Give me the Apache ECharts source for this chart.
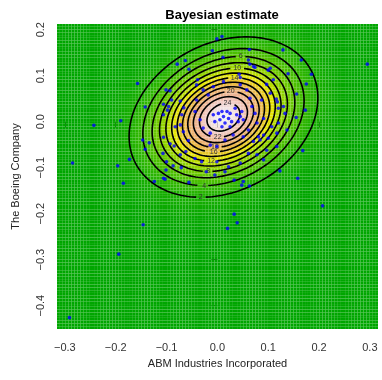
<!DOCTYPE html>
<html><head><meta charset="utf-8">
<script src="https://cdn.jsdelivr.net/npm/echarts@6/dist/echarts.min.js"></script>
<style>html,body{margin:0;padding:0;background:#fff}#c{width:382px;height:380px}</style>
</head><body><div id="c"></div>
<script>
// ---------- data ----------
const chartTitle = 'Bayesian estimate';
const xName = 'ABM Industries Incorporated';
const yName = 'The Boeing Company';
const xTicks = [-0.3, -0.2, -0.1, 0, 0.1, 0.2, 0.3];
const yTicks = [-0.4, -0.3, -0.2, -0.1, 0, 0.1, 0.2];
const xRange = [-0.3155, 0.316];
const yRange = [-0.4507, 0.2123];
// estimated bivariate normal (posterior) parameters
const meanEst = [0.012, 0.010];
const sdEst = [0.082, 0.077];
const corrEst = 0.24;
const contourLevels = [2, 4, 6, 8, 10, 12, 14, 16, 18, 20, 22, 24];
const labelOnTop = [6, 10, 14, 20, 24];
// observed returns
const abmReturns = [-0.001,-0.010,-0.063,-0.079,-0.056,-0.157,-0.101,-0.093,-0.073,-0.106,-0.096,-0.098,-0.066,-0.142,-0.106,-0.190,-0.070,-0.039,-0.090,
0.009,0.063,0.129,0.165,0.011,0.061,0.064,0.071,0.074,0.104,0.100,0.139,0.185,0.043,0.045,0.097,0.110,0.175,0.156,0.104,0.087,0.116,0.118,0.091,0.120,0.133,0.130,0.155,0.173,
0.091,0.100,0.117,0.137,0.120,0.107,0.084,0.097,0.117,0.168,0.091,0.022,0.015,0.045,0.123,0.033,0.051,0.048,0.063,0.158,0.033,0.061,0.078,
-0.147,-0.134,-0.142,-0.106,-0.093,-0.085,-0.107,-0.083,-0.073,-0.067,-0.057,-0.062,-0.044,-0.031,-0.073,-0.100,-0.087,-0.071,-0.101,-0.173,-0.124,-0.106,-0.103,-0.056,-0.022,-0.005,-0.185,-0.001,
0.002,0.009,0.019,0.025,0.012,0.022,0.005,0.028,0.038,0.045,-0.005,0.015,0.041,0.051,0.025,0.009,0.035,-0.008,0.048,
-0.041,-0.028,-0.018,-0.008,0.012,0.045,0.058,0.064,0.068,0.074,0.078,0.061,0.051,0.031,0.015,-0.014,-0.028,-0.034,-0.044,-0.041,-0.014,-0.001,0.071,0.081,
-0.285,-0.243,-0.196,-0.146,-0.194,-0.291,0.207,0.020,0.039,0.295];
const boeingReturns = [0.180,0.154,0.133,0.125,0.114,0.083,0.069,0.067,0.045,0.038,0.033,0.025,0.030,0.032,0.015,0.002,0.015,0.091,0.047,
0.185,0.157,0.156,0.134,0.140,0.134,0.125,0.120,0.118,0.116,0.112,0.104,0.103,0.103,0.096,0.081,0.091,0.082,0.060,0.062,0.047,0.049,0.043,0.007,0.029,0.018,0.033,0.009,0.025,
-0.029,-0.036,-0.025,-0.018,-0.003,-0.011,-0.040,-0.062,-0.054,-0.063,-0.083,-0.098,-0.109,-0.090,-0.107,-0.127,-0.130,-0.138,-0.140,-0.123,-0.201,-0.069,-0.072,
-0.040,-0.046,-0.060,-0.034,-0.048,-0.053,-0.069,-0.011,-0.007,-0.022,-0.041,-0.065,-0.080,-0.087,-0.072,-0.087,-0.096,-0.100,-0.105,-0.082,-0.130,-0.123,-0.125,-0.132,-0.109,-0.116,-0.134,-0.087,
0.018,0.022,0.022,0.018,0.011,0.007,0.004,0.000,0.015,0.011,0.000,-0.003,0.000,0.004,-0.011,-0.011,0.029,0.015,0.022,
0.080,0.069,0.058,0.076,0.087,0.080,0.069,0.051,0.033,0.018,-0.003,-0.018,-0.033,-0.029,-0.040,-0.025,-0.014,0.004,0.022,0.047,-0.051,-0.054,-0.043,-0.033,
-0.090,-0.008,-0.096,-0.224,-0.288,-0.426,-0.183,-0.232,-0.220,0.125];

// ---------- model ----------
const mx = meanEst[0], my = meanEst[1], sx = sdEst[0], sy = sdEst[1], r = corrEst;
const peak = 1 / (2 * Math.PI * sx * sy * Math.sqrt(1 - r * r));
function dens(x, y) {
  const dx = (x - mx) / sx, dy = (y - my) / sy;
  const q = (dx * dx - 2 * r * dx * dy + dy * dy) / (1 - r * r);
  return peak * Math.exp(-q / 2);
}
function hsv(h, s, v) {
  const i = Math.floor(h * 6), f = h * 6 - i;
  const p = v * (1 - s), q = v * (1 - f * s), t = v * (1 - (1 - f) * s);
  let rr, gg, bb;
  switch (((i % 6) + 6) % 6) {
    case 0: rr = v; gg = t; bb = p; break;
    case 1: rr = q; gg = v; bb = p; break;
    case 2: rr = p; gg = v; bb = t; break;
    case 3: rr = p; gg = q; bb = v; break;
    case 4: rr = t; gg = p; bb = v; break;
    default: rr = v; gg = p; bb = q;
  }
  return 'rgb(' + Math.round(rr * 255) + ',' + Math.round(gg * 255) + ',' + Math.round(bb * 255) + ')';
}
function terrain(t) {
  t = Math.max(0, Math.min(1, t));
  if (t <= 0.5) { const u = t / 0.5; return hsv(1 / 3 - u / 6, 1, 0.65 + 0.25 * u); }
  const u = (t - 0.5) / 0.5; return hsv((1 / 6) * (1 - u), 1 - u, 0.9 + 0.05 * u);
}

// image cells
const NX = 110, NY = 110;
const cells = [], cellColors = [];
const dxc = (xRange[1] - xRange[0]) / NX, dyc = (yRange[1] - yRange[0]) / NY;
for (let i = 0; i < NX; i++) {
  for (let j = 0; j < NY; j++) {
    const x0 = xRange[0] + i * dxc, y0 = yRange[0] + j * dyc;
    cells.push([x0, x0 + dxc, y0, y0 + dyc]);
    cellColors.push(terrain(dens(x0 + dxc / 2, y0 + dyc / 2) / peak));
  }
}

// contour ellipses
const pxX = 508, pxY = 460;
const L21 = r * sy, L22 = sy * Math.sqrt(1 - r * r);
const tTop = Math.atan2(Math.sqrt(1 - r * r), r);
function ell(k, t) { return [mx + k * sx * Math.cos(t), my + k * (L21 * Math.cos(t) + L22 * Math.sin(t))]; }
const contourSeries = [], labelData = [];
contourLevels.forEach(c => {
  const k = Math.sqrt(2 * Math.log(peak / c));
  const tl = labelOnTop.indexOf(c) >= 0 ? tTop : tTop + Math.PI;
  const lp = ell(k, tl);
  const half = String(c).length * 2.1 + 2;
  const pts = [];
  const N = 360;
  for (let n = 0; n <= N; n++) {
    const t = tl + 2 * Math.PI * n / N;
    const p = ell(k, t);
    const d = Math.hypot((p[0] - lp[0]) * pxX, (p[1] - lp[1]) * pxY);
    if (d < half && (n < N / 4 || n > 3 * N / 4)) continue;
    pts.push(p);
  }
  labelData.push([lp[0], lp[1], c]);
  contourSeries.push({
    type: 'line', data: pts, showSymbol: false, symbol: 'none', silent: true,
    lineStyle: { color: '#000', width: 1.6 }, z: 3, animation: false
  });
});

const points = abmReturns.map((v, i) => [v, boeingReturns[i]]);
const fmt = v => (v < 0 ? '\u2212' : '') + Math.abs(v).toFixed(1);
const font = 'Liberation Sans, Arial, sans-serif';

const chart = echarts.init(document.getElementById('c'), null, { renderer: 'canvas' });
chart.setOption({
  animation: false,
  backgroundColor: '#fff',
  title: { text: chartTitle, left: 217, top: 4, textAlign: 'center',
    textStyle: { fontFamily: font, fontSize: 13, fontWeight: 'bold', color: '#000' } },
  grid: { left: 57, right: 4, top: 24, bottom: 51 },
  xAxis: {
    type: 'value', min: xRange[0], max: xRange[1],
    name: xName, nameLocation: 'middle', nameGap: 29,
    nameTextStyle: { fontFamily: font, fontSize: 11, color: '#222' },
    axisLine: { show: false },
    axisTick: { show: true, customValues: xTicks, length: 6, lineStyle: { color: '#444' } },
    axisLabel: { customValues: xTicks, formatter: fmt, margin: 13, fontFamily: font, fontSize: 11, color: '#333' },
    splitLine: { show: false }
  },
  yAxis: {
    type: 'value', min: yRange[0], max: yRange[1],
    name: yName, nameLocation: 'middle', nameGap: 36,
    nameTextStyle: { fontFamily: font, fontSize: 11, color: '#222' },
    axisLine: { show: false },
    axisTick: { show: true, customValues: yTicks, length: 6, lineStyle: { color: '#444' } },
    axisLabel: { customValues: yTicks, formatter: fmt, margin: 11, rotate: 90, fontFamily: font, fontSize: 11, color: '#333' },
    splitLine: { show: false }
  },
  series: [
    {
      type: 'custom', data: cells, silent: true, clip: true, z: 1,
      encode: { x: [0, 1], y: [2, 3] },
      renderItem: (params, api) => {
        const p0 = api.coord([api.value(0), api.value(3)]);
        const p1 = api.coord([api.value(1), api.value(2)]);
        return { type: 'rect', shape: { x: p0[0], y: p0[1], width: p1[0] - p0[0], height: p1[1] - p0[1] },
          style: { fill: cellColors[params.dataIndex] } };
      }
    },
    ...contourSeries,
    {
      type: 'custom', data: labelData, silent: true, z: 4,
      encode: { x: 0, y: 1 },
      renderItem: (params, api) => {
        const p = api.coord([api.value(0), api.value(1)]);
        return { type: 'text', x: p[0], y: p[1],
          style: { text: String(api.value(2)), fontSize: 7, fontFamily: font, fill: '#333', align: 'center', verticalAlign: 'middle' } };
      }
    },
    {
      type: 'scatter', data: points, symbol: 'circle', symbolSize: 3.6, z: 5, silent: true,
      itemStyle: { color: '#0000ff' }
    }
  ]
});
</script></body></html>
